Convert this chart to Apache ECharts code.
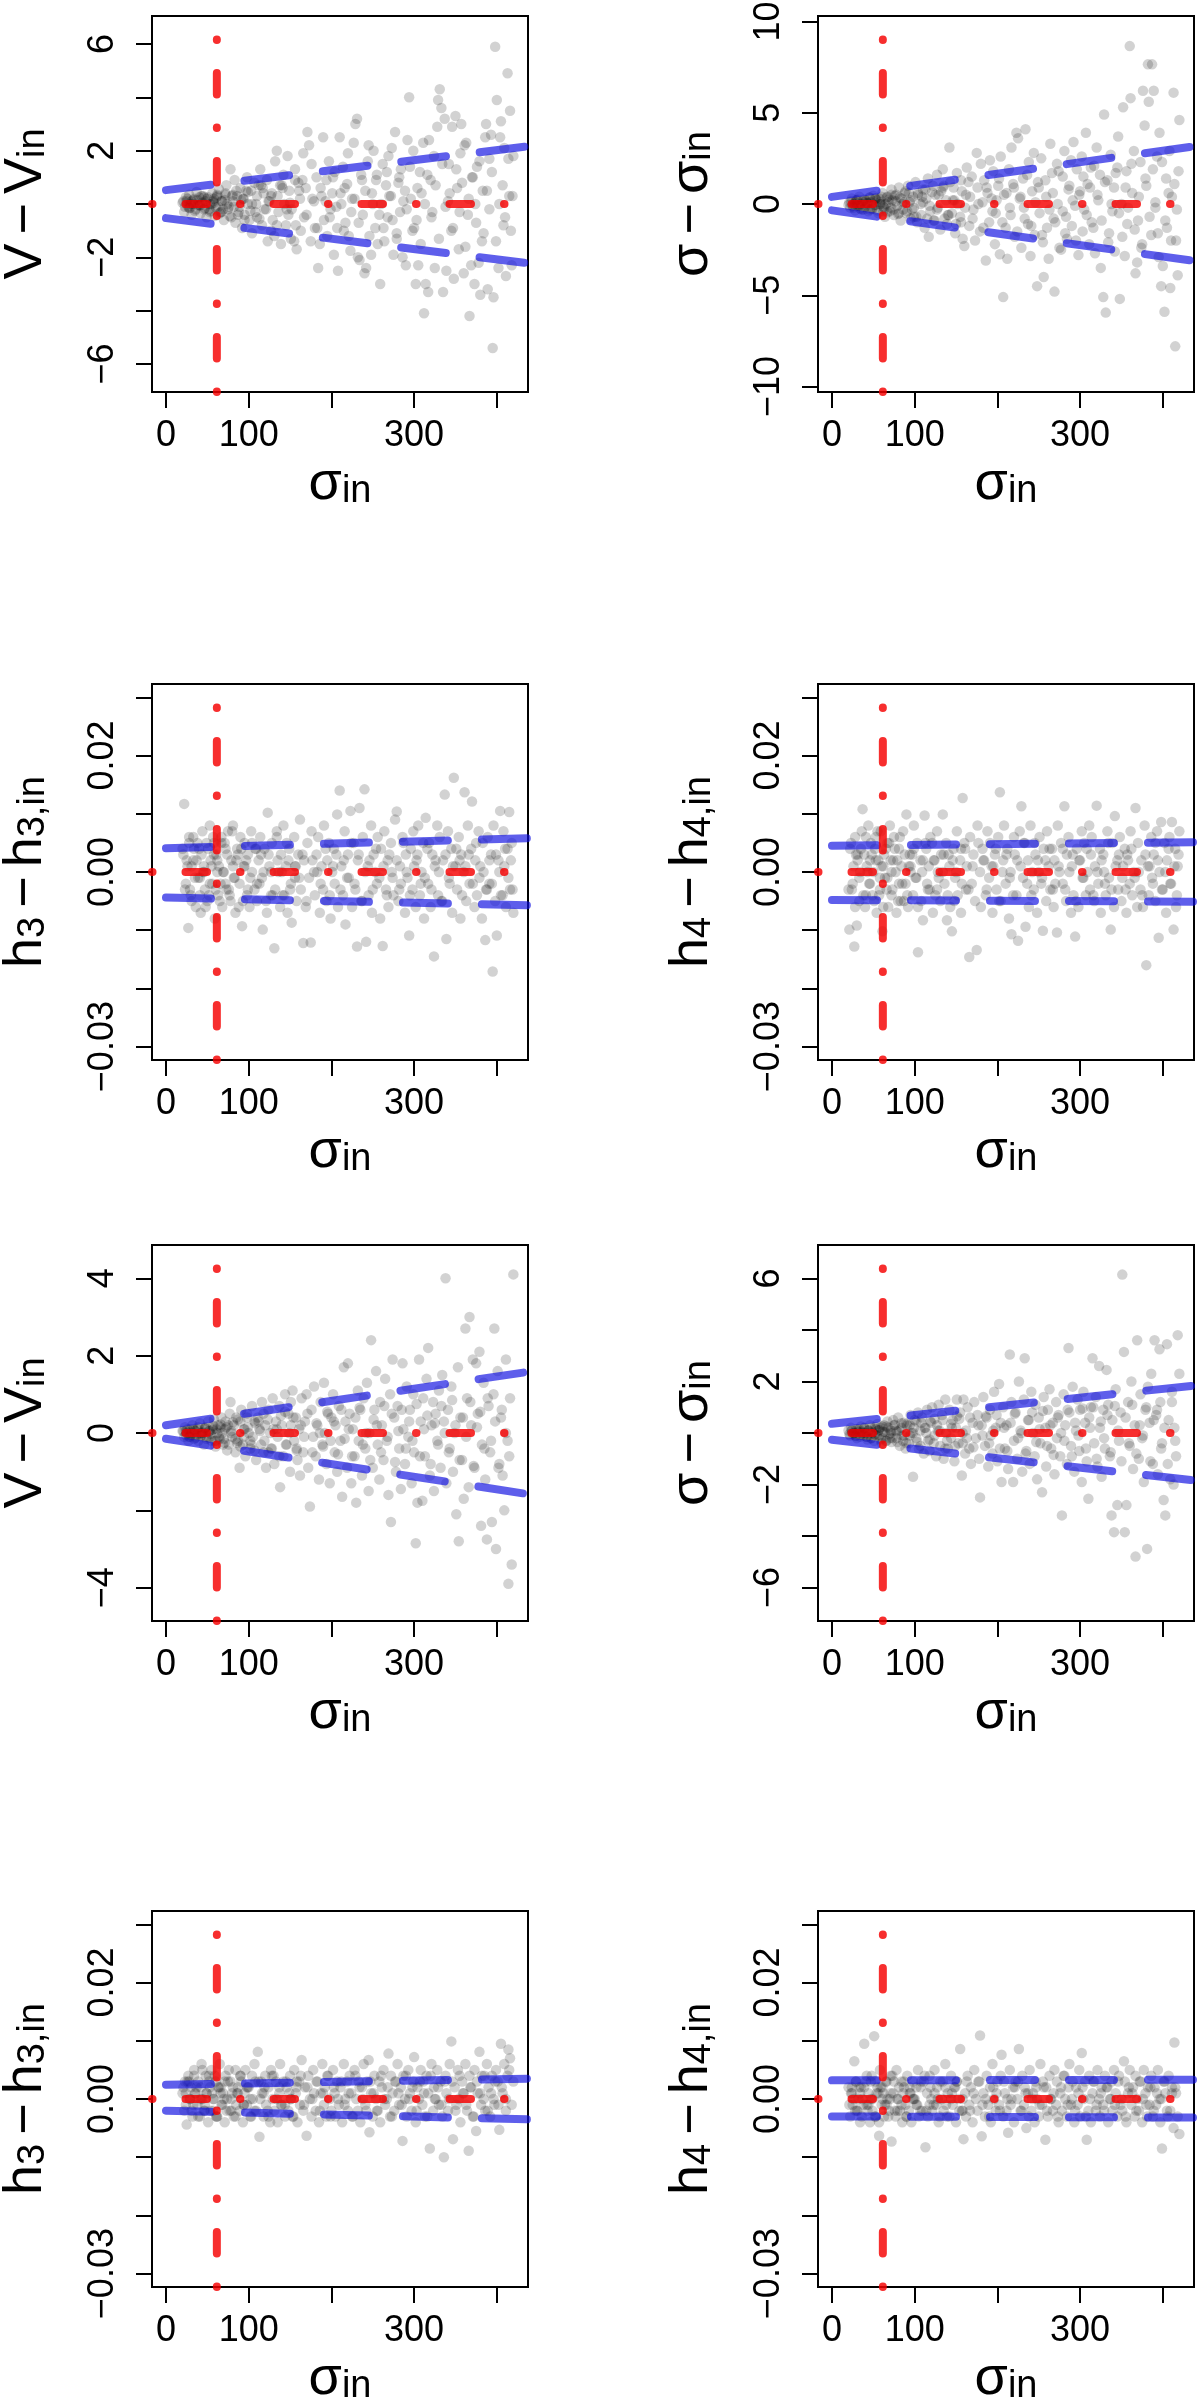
<!DOCTYPE html>
<html><head><meta charset="utf-8">
<script src="https://cdn.jsdelivr.net/npm/echarts@6/dist/echarts.min.js"></script>
<style>html,body{margin:0;padding:0;background:#fff}#c{width:1200px;height:2406px}</style>
</head><body><div id="c"></div>
<script>
// ---------- DATA : figure A (rows 1-2) ----------
const sigmaInA = [
21,22,24,27,28,30,31,33,36,37, 39,40,42,44,45,47,49,50,53,54, 56,57,59,61,63,64,67,68,70,72,
73,75,78,79,81,83,84,86,89,90, 92,94,95,98,99,101,103,104,107,108, 110,112,114,116,117,119,122,123,125,127,
128,131,132,134,136,138,139,142,143,145, 147,149,151,152,155,156,158,160,162,163, 166,167,169,171,173,175,176,179,180,182,
184,186,188,190,191,194,195,197,199,201, 203,204,207,208,210,212,214,216,217,220, 221,223,225,227,229,231,232,234,237,238,
240,242,244,245,248,249,251,253,255,256, 259,260,262,264,266,268,269,272,273,275, 277,279,281,283,284,286,289,290,292,294,
296,298,299,302,303,305,307,309,311,312, 314,317,318,320,322,324,325,328,329,331, 333,335,337,339,341,342,345,346,348,350,
352,354,356,357,360,361,363,365,367,369, 370,373,374,376,378,380,382,383,386,387, 389,391,393,395,396,398,400,402,404,405,
408,409,411,413,415,416,418,420];
const dV_A = [
0.1,-0.3,0.25,-0.1,0.35,0.0,-0.4,0.15,-0.2,0.45, -0.05,0.25,-0.35,0.05,0.3,-0.15,-0.5,0.2,0.0,-0.25, 0.4,0.1,-0.45,0.25,-0.1,0.55,-0.3,0.1,-0.6,0.35,
0.7,-0.2,1.3,-0.5,0.1,0.9,-0.7,0.3,-0.1,0.6, -0.9,0.2,-0.4,1.0,0.0,-0.6,0.5,-1.1,0.8,-0.3, 0.3,0.7,1.3,-0.8,0.6,-0.2,0.9,-1.4,0.1,-1.0,
0.4,-1.2,1.6,2.0,-0.3,0.7,-1.5,1.1,0.0,-0.8, 1.8,0.5,-1.3,-0.2,-1.4,1.3,-1.7,0.8,0.2,-1.0, 1.9,-0.5,0.6,2.7,2.2,-1.4,1.5,0.1,-0.9,1.0,
-2.4,-1.5,0.3,2.5,-0.6,0.9,-1.2,1.6,-0.2,0.4, -1.9,1.2,-0.9,-2.5,2.5,0.0,1.4,0.6,-0.7,1.9, -1.2,-1.75,0.2,2.3,3.0,3.2,-2.0,-2.1,0.9,-0.4,
-2.6,-2.4,1.6,2.2,-1.9,0.4,2.0,-0.9,1.1,-1.5, -3.0,0.0,1.5,-1.4,0.7,-0.5,1.8,0.3,2.1,-1.9, 2.7,-1.1,0.8,-0.3,1.3,-2.0,0.5,-2.3,2.4,4.0,
0.2,-1.0,2.0,-3.0,-0.6,-2.3,1.2,0.4,2.3,-4.1, -3.0,-3.3,2.4,0.9,-0.3,1.8,-2.4,2.9,3.9,4.3, 3.6,-3.3,3.2,-2.5,0.1,1.5,-1.0,2.9,-2.8,3.3,
0.6,-1.7,1.9,3.0,-2.6,2.2,2.3,-0.4,-4.2,-2.3, 1.0,-3.0,0.0,1.4,-2.2,-3.4,-1.4,0.5,2.5,3.0, -3.2,1.7,2.6,-5.4,-3.5,5.9,3.9,-2.4,2.5,3.1,
-0.8,2.1,-2.7,4.9,0.3,3.5,-2.3,1.8];
const dSig_A = [
0.1,-0.2,0.3,0.0,-0.35,0.2,-0.1,0.4,-0.3,0.15, 0.25,-0.15,0.05,-0.4,0.35,0.1,-0.25,0.45,-0.05,0.2, -0.5,0.3,0.0,0.6,-0.2,-0.7,0.4,0.1,-0.4,0.8,
0.2,-0.6,0.5,-0.1,0.9,-0.9,0.3,-0.3,0.7,-0.5, 1.0,0.1,-0.8,0.4,-0.2,1.2,-1.0,0.6,0.0,-0.6, 0.8,-1.3,0.3,1.4,-1.8,-0.4,1.0,-0.9,0.5,1.6,
-0.2,-1.4,0.7,1.9,-0.8,0.2,-1.1,3.1,1.2,-0.5, 0.9,-1.6,1.7,0.0,-0.7,1.3,-1.9,-2.3,0.5,2.0, -1.2,0.4,1.5,-0.3,-2.0,2.8,0.9,-1.5,2.2,0.1,
1.3,-3.1,0.6,-1.0,2.4,-0.4,1.8,-2.2,0.2,1.0, -2.75,2.6,-5.1,0.5,-1.3,-3.0,1.9,-0.6,3.1,0.9, -1.8,3.9,3.6,0.3,-2.4,1.4,-0.2,4.1,-1.1,2.3,
-2.85,0.7,2.8,-1.7,-4.5,1.2,-0.5,2.5,-2.1,-4.0, 0.4,-1.3,-3.0,3.3,1.7,-0.8,-4.8,2.2,0.0,-2.4, -2.5,1.5,2.9,-0.7,-1.9,0.8,2.4,-1.2,3.4,-0.1,
1.9,-2.8,0.5,2.6,-1.5,-0.3,3.9,1.1,-2.2,0.9, -1.0,2.1,-2.7,3.1,0.2,1.6,-3.5,-5.1,4.9,-5.95, 1.3,-1.6,2.7,-0.4,0.9,-2.6,2.0,3.7,-5.2,0.0,
5.3,-2.85,1.8,-1.1,8.65,5.8,0.6,2.9,-3.8,-3.2, -0.9,2.3,-2.4,6.2,4.3,1.0,7.65,5.6,-1.7,7.65, 6.2,-0.2,2.6,-2.9,3.9,-4.5,-3.4,-5.9,1.4,-1.3,
2.9,-4.6,0.4,6.1,-7.8,-2.0,-3.9,4.6];
const dH3_A = [
0.003,0.0117,-0.002,-0.0096,0.005,-0.004,0.001,0.006,-0.006,0.002, -0.001,0.004,-0.007,0.007,0.0,-0.003,0.005,-0.005,0.008,0.002, -0.002,0.006,-0.008,0.003,-0.004,0.001,0.005,-0.006,0.0,0.004,
-0.003,0.007,-0.005,0.002,0.008,-0.001,-0.007,0.004,-0.002,0.006, -0.0093,0.001,0.005,-0.004,0.003,-0.006,0.007,0.0,-0.003,0.004, -0.005,0.002,0.006,-0.001,-0.0099,0.004,-0.007,0.0102,0.001,-0.004,
0.005,-0.0131,-0.003,0.007,0.0,-0.006,0.003,0.008,-0.004,0.001, -0.007,0.004,-0.002,-0.0087,0.006,0.001,-0.005,0.003,0.009,-0.003, -0.0122,0.002,-0.006,0.005,-0.001,-0.0121,0.007,0.0,-0.004,0.003,
0.006,-0.007,0.001,-0.003,0.008,-0.005,0.002,0.005,-0.008,0.0, 0.004,-0.002,0.0099,-0.006,0.014,0.001,-0.004,0.007,-0.009,0.003, -0.001,0.0105,-0.006,0.005,-0.003,-0.0128,0.002,0.011,-0.005,0.006,
0.0142,-0.012,0.001,-0.004,0.008,-0.007,0.003,0.0,-0.002,0.006, -0.008,0.004,-0.0127,0.007,-0.003,0.002,-0.006,0.005,0.0,-0.004, 0.009,0.0104,-0.005,0.001,-0.002,0.006,-0.007,0.003,-0.001,-0.0109,
0.004,-0.003,0.007,-0.006,0.002,0.008,-0.004,0.0,0.005,-0.008, 0.0093,-0.002,0.005,-0.006,0.003,-0.0145,0.001,0.008,-0.004,0.006, -0.005,0.002,0.0133,-0.0115,0.007,-0.001,0.004,-0.007,0.0162,0.001,
-0.003,0.006,-0.008,0.003,0.0,0.0137,-0.005,0.008,-0.002,0.004, 0.0121,-0.006,0.002,-0.004,0.007,0.001,-0.008,0.005,-0.0117,-0.003, 0.006,-0.002,0.003,-0.0171,0.008,-0.005,-0.0109,0.002,0.0105,-0.004,
0.007,0.001,-0.006,0.004,0.0103,-0.003,0.005,-0.007];
const dH4_A = [
-0.0099,0.004,-0.003,-0.0128,0.006,-0.0092,0.002,-0.005,0.007,0.0108, 0.003,-0.006,0.001,0.008,-0.002,0.005,-0.004,0.0,0.006,-0.007, 0.002,-0.004,0.007,-0.0102,0.003,-0.001,0.005,-0.006,0.008,0.0,
-0.003,0.006,-0.007,0.002,0.004,-0.005,0.001,0.007,-0.002,0.0099, -0.006,0.003,0.0,-0.004,0.008,-0.001,0.005,-0.0138,0.002,-0.005, -0.0083,0.0097,0.004,-0.003,0.001,0.006,-0.007,0.002,-0.004,0.007,
0.0,-0.005,0.003,0.0099,-0.002,0.005,-0.0083,0.001,-0.006,-0.0102, 0.004,-0.001,0.007,-0.004,0.002,-0.007,0.0127,0.005,-0.003,0.001, -0.0146,0.006,-0.002,0.003,-0.005,-0.0134,0.008,0.0,-0.006,0.004,
0.002,-0.004,0.007,-0.001,0.005,-0.007,0.001,0.003,-0.003,0.006, 0.0137,-0.005,0.002,0.008,-0.002,0.004,-0.008,0.0,-0.0107,0.006, 0.003,-0.004,-0.0118,0.007,0.0113,-0.001,0.005,-0.0094,0.002,-0.006,
0.008,0.0,-0.003,0.005,-0.007,0.002,0.006,-0.002,-0.0101,0.004, -0.005,0.007,0.001,-0.003,0.004,-0.006,0.002,-0.0104,0.008,0.0, 0.005,-0.002,0.0113,-0.005,0.003,0.006,-0.007,0.001,-0.004,-0.0111,
0.004,-0.006,0.002,0.007,-0.001,0.005,-0.004,0.0,0.008,-0.003, 0.006,-0.005,0.001,0.0114,-0.002,0.004,-0.007,0.003,0.0,-0.004, 0.007,-0.001,-0.0099,0.005,-0.006,0.0096,0.002,-0.003,0.006,-0.005,
0.001,0.004,-0.007,0.003,-0.002,0.007,-0.004,0.0,0.011,-0.006, 0.005,-0.003,0.002,-0.006,0.008,-0.016,0.001,-0.004,0.006,-0.001, 0.003,-0.005,0.007,-0.0113,0.0,0.0086,-0.003,0.005,-0.007,0.002,
0.006,-0.002,0.0086,-0.0099,0.004,-0.006,0.001,0.007];
// second batch of galaxies, figure A
const sigmaInA2 = [
25,29,34,41,46,52,58,62,66,71, 76,81,87,93,97,102,109,113,118,124, 129,135,140,146,150,157,161,165,170,177,
183,187,193,198,202,206,211,215,219,224, 228,233,236,241,246,250,254,258,263,267, 270,274,279,282,287,291,295,300,304,308,
313,316,321,326,330,334,338,343,347,351, 355,358,362,366,371,375,379,384,388,391, 394,399,403,407,410,414,417,419];
const dV_A2 = [
0.1,-0.15,0.2,-0.05,0.25,-0.2,0.05,0.3,-0.3,0.15, -0.1,0.35,-0.4,0.2,0.5,-0.25,0.0,-0.55,0.4,0.1, -0.6,0.3,0.7,-0.2,0.05,-0.8,0.5,0.9,-0.4,0.2,
-0.9,0.6,0.1,-0.5,1.0,-0.1,0.4,-1.0,0.75,-0.3, 0.2,-0.7,1.1,0.5,-1.2,0.0,0.9,-0.4,-0.9,1.2, 0.3,-0.6,-1.3,1.0,0.1,-0.2,1.4,-0.9,0.6,-1.5,
0.0,1.1,-0.5,0.7,-1.3,1.5,-0.1,0.4,-0.9,1.3, -0.3,0.8,-1.6,0.2,1.0,-0.7,1.6,-1.1,0.5,-0.2, 1.2,-1.4,0.0,0.7,-0.5,1.7,-1.0,0.3];
const dSig_A2 = [
-0.1,0.2,-0.25,0.15,-0.3,0.3,0.0,-0.4,0.35,-0.2, 0.45,-0.5,0.1,0.6,-0.3,-0.7,0.4,0.8,-0.1,-0.9, 0.5,1.0,-0.6,0.2,-1.1,0.7,-0.2,1.2,-0.8,0.0,
-1.3,0.9,0.3,-0.5,1.4,-1.0,0.6,-0.2,1.1,-1.5, 0.4,-0.8,1.6,-1.2,0.1,0.9,-1.7,1.3,-0.3,0.6, -1.0,1.8,-0.4,-1.6,1.0,0.2,-2.0,0.7,1.5,-0.6,
2.0,-1.3,0.5,-0.9,1.2,-2.1,0.0,1.7,-0.5,-1.8, 0.9,-0.2,2.2,-1.4,0.4,-2.2,1.4,-0.7,1.9,0.1, -1.6,2.3,-0.9,0.6,-2.0,1.1,-0.3,1.8];
const dH3_A2 = [
0.002,-0.003,0.004,-0.001,0.001,-0.004,0.003,0.0,-0.002,0.005, -0.003,0.001,0.003,-0.005,0.002,-0.001,0.004,-0.002,0.0,0.003, -0.004,0.002,0.0,0.005,-0.003,0.001,-0.001,0.003,-0.005,0.002,
0.0,-0.002,0.004,-0.004,0.001,0.003,-0.003,0.002,-0.001,0.005, -0.002,0.003,-0.005,0.0,0.002,-0.003,0.004,-0.001,0.001,-0.004, 0.003,-0.001,0.002,-0.003,0.005,0.0,-0.004,0.001,0.003,-0.002,
-0.001,0.004,-0.003,0.002,0.0,-0.005,0.003,-0.002,0.001,0.004, 0.002,-0.004,0.001,0.003,-0.002,0.005,-0.001,0.0,-0.003,0.002, -0.002,0.003,0.0,-0.004,0.004,-0.001,0.002,-0.003];
const dH4_A2 = [
-0.002,0.003,0.0,-0.004,0.002,0.004,-0.001,0.001,-0.003,0.002, 0.004,-0.002,-0.005,0.001,0.003,-0.001,0.0,0.005,-0.003,0.002, -0.001,0.003,-0.004,0.002,0.0,-0.002,0.004,-0.003,0.001,0.005,
0.002,-0.003,0.001,0.004,-0.005,0.0,0.003,-0.001,-0.004,0.002, 0.001,0.005,-0.002,-0.004,0.003,0.0,-0.001,0.002,0.004,-0.003, -0.002,0.001,0.004,-0.003,0.0,0.003,-0.005,0.002,-0.001,0.004,
0.003,-0.004,0.0,0.002,-0.002,0.005,-0.003,0.001,0.003,-0.001, -0.003,0.002,0.004,-0.001,0.0,-0.004,0.003,0.001,-0.002,0.005, 0.002,-0.003,0.0,0.004,-0.002,0.001,-0.004,0.003];
// third batch, figure A (crowded low-sigma end)
const sigmaInA3 = [
20,23,26,28,31,33,35,38,41,43, 46,48,51,53,55,58,60,62,65,67, 69,72,74,77,80,82,85,88,91,95, 99,104,110,115,121,127,134,141,148,156];
const dV_A3 = [
0.05,-0.1,0.2,-0.15,0.1,0.0,-0.25,0.15,-0.05,0.3, -0.2,0.1,0.25,-0.3,0.0,0.2,-0.1,0.35,-0.35,0.1,
-0.2,0.4,0.0,-0.45,0.3,-0.1,0.5,-0.3,0.15,-0.6, 0.45,0.0,-0.5,0.7,-0.2,0.3,-0.8,0.6,-0.4,0.9];
const dSig_A3 = [
-0.05,0.15,-0.2,0.1,0.25,-0.1,0.0,-0.3,0.2,0.05, 0.35,-0.25,-0.05,0.3,-0.35,0.1,0.4,-0.15,0.0,-0.45,
0.25,0.5,-0.3,0.15,-0.55,0.35,0.0,0.6,-0.4,0.2, -0.7,0.5,0.1,-0.8,0.65,-0.3,0.9,-0.6,0.2,-1.0];
const dH3_A3 = [
0.004,-0.003,0.001,0.006,-0.005,0.002,-0.001,0.005,-0.004,0.003, 0.0,-0.006,0.004,-0.002,0.001,0.005,-0.003,0.002,-0.005,0.006,
0.0,-0.002,0.003,-0.004,0.007,-0.001,0.002,-0.006,0.004,0.001, -0.003,0.005,-0.002,0.003,-0.005,0.0,0.006,-0.004,0.002,-0.001];
const dH4_A3 = [
-0.003,0.005,0.001,-0.006,0.003,-0.001,0.004,-0.004,0.006,0.0, -0.002,0.003,-0.005,0.002,0.007,-0.003,0.001,-0.006,0.004,-0.001,
0.005,-0.004,0.002,0.0,-0.005,0.006,-0.002,0.003,-0.004,0.001, 0.004,-0.006,0.002,-0.002,0.005,-0.003,0.0,0.003,-0.005,0.004];

// ---------- DATA : figure B (rows 3-4) ----------
const sigmaInB = [
20,22,23,25,27,29,30,32,34,35, 38,39,41,43,44,46,48,49,51,53, 55,57,58,60,62,63,65,67,69,71,
72,74,77,78,80,82,84,85,87,89, 91,93,95,96,98,100,102,104,105,107, 109,111,113,115,116,118,120,121,124,126,
127,129,131,133,135,137,138,140,142,144, 146,148,150,151,153,155,157,159,161,162, 164,166,168,170,172,174,176,178,179,181,
183,185,187,189,191,192,194,196,198,200, 202,204,205,207,209,211,213,215,217,219, 220,222,224,226,228,230,232,233,235,237,
239,241,243,245,246,248,250,252,254,256, 258,259,261,263,265,267,269,271,272,274, 276,278,280,282,284,286,287,289,291,293,
295,297,299,300,302,304,306,308,310,311, 313,315,317,319,321,323,324,326,328,330, 332,334,336,338,339,341,343,345,347,349,
351,353,354,356,358,360,362,364,366,367, 369,371,373,375,377,379,381,382,384,386, 388,390,392,394,396,397,399,401,403,405,
407,409,411,413,414,416,418,420];
const dV_B = [
0.05,-0.1,0.15,0.0,-0.2,0.1,-0.05,0.2,-0.15,0.05, 0.1,-0.2,0.25,-0.05,0.0,-0.3,0.15,-0.1,0.3,0.05, -0.2,0.1,0.35,-0.35,0.0,0.2,-0.15,0.4,-0.3,0.1,
0.3,-0.45,0.5,0.8,-0.1,0.2,-0.5,0.4,-0.2,-0.9, 0.6,-0.3,0.1,-0.6,0.5,0.0,-0.4,0.7,-0.1,0.3, -0.7,0.4,0.1,-0.3,0.8,-0.5,0.2,-0.9,0.6,0.0,
-0.4,0.9,-0.8,0.3,-0.1,0.7,-1.4,0.2,-0.6,1.0, -0.3,0.5,-1.0,0.8,1.1,-0.2,0.4,-0.7,0.1,-1.1, 0.9,-0.5,0.3,1.0,-0.9,-1.9,0.6,-0.1,1.2,-0.6,
0.2,-1.2,0.8,-0.3,1.3,0.0,-0.8,0.5,-1.3,0.4, 1.0,-0.5,0.2,-1.0,0.7,-0.2,-1.65,1.7,0.3,-0.9, 1.8,0.5,-1.3,0.1,-0.6,-1.8,1.1,-0.2,0.6,-1.1,
0.9,-0.4,1.3,-1.5,0.0,2.4,-0.9,0.6,1.6,-0.3, -1.2,0.8,0.2,-0.7,1.4,-0.2,-1.6,1.0,-2.3,1.9, 0.4,-1.0,0.7,-0.4,-1.45,1.8,0.1,-0.8,1.2,-0.1,
0.6,-1.3,1.0,-0.5,-2.85,-1.8,1.9,0.3,-1.75,0.9, -0.6,1.4,2.2,-1.1,0.2,0.8,-1.5,0.5,-0.2,1.1, -0.9,1.5,0.3,4.0,-1.3,0.6,-0.4,1.2,-1.0,0.0,
-2.1,1.7,-2.8,0.4,-0.7,-1.7,2.7,0.9,-1.4,3.0, 0.2,1.9,-0.9,1.8,0.5,2.1,-2.4,-0.3,1.3,-1.2, -2.75,0.7,-0.5,-2.3,1.0,2.7,-3.0,1.6,-0.8,0.4,
-1.1,-2.0,1.9,-0.2,-3.9,0.9,-3.4,4.1];
const dSig_B = [
0.1,-0.1,0.2,-0.05,0.0,0.15,-0.2,0.05,-0.15,0.25, -0.1,0.2,0.0,-0.25,0.1,0.3,-0.2,0.05,-0.3,0.15, 0.35,-0.1,0.2,-0.4,0.05,0.3,-0.3,0.45,-0.05,0.1,
-0.35,0.5,0.1,-0.2,0.6,-0.5,0.2,-0.1,0.4,-0.6, 0.3,-0.4,0.7,0.0,-1.7,0.5,-0.2,0.8,-0.6,0.1, 0.6,-0.8,0.2,0.9,-0.3,-0.7,0.4,1.0,-0.1,-0.9,
0.3,1.1,-0.5,0.7,-1.0,1.3,0.0,-0.6,0.9,-0.2, 0.5,-1.1,0.2,1.3,-0.4,0.8,-1.65,1.3,-0.8,0.1, 1.0,-0.6,-1.2,0.4,1.2,-0.2,0.7,-1.0,-2.5,0.3,
1.4,-0.5,0.6,-1.3,0.9,-0.1,-0.8,1.6,0.2,-1.1, 1.9,0.4,-1.9,1.0,-0.6,0.3,-1.4,3.05,1.2,-1.9, -0.3,0.8,-1.0,2.0,0.1,-1.5,1.3,2.9,-0.7,0.5,
-1.2,1.6,0.0,-0.9,1.1,-1.8,0.6,-0.4,-2.3,1.4, 0.2,-1.3,0.9,1.7,-0.6,0.4,-1.6,1.2,-0.2,0.7, -0.9,-3.2,1.5,0.3,-1.2,3.3,0.8,-0.5,1.8,-1.5,
0.1,1.3,-0.7,0.9,-1.9,1.6,0.4,-1.1,-2.55,0.6, 1.0,2.9,-0.4,1.4,-1.3,2.6,0.2,-1.7,0.9,-0.6, 2.45,1.1,-0.9,-3.2,0.5,-3.85,1.7,-2.8,-0.3,0.8,
6.15,3.15,-3.85,-2.8,1.2,-0.5,2.0,-1.4,0.3,-4.8, 3.6,-1.0,1.5,-0.2,-1.9,0.9,-4.5,1.8,0.4,2.3, -1.2,3.6,0.7,-1.6,3.25,1.2,-0.4,-2.6,-3.2,3.45,
0.5,-1.8,1.6,-2.0,0.2,-0.9,3.8,2.3];
const dH3_B = [
0.001,-0.002,0.003,-0.0044,0.004,0.0,0.002,-0.003,0.005,0.001, -0.001,0.003,-0.003,0.006,0.0,-0.002,0.004,0.001,-0.004,0.002, 0.005,-0.002,0.0,0.003,-0.003,0.002,0.006,-0.001,0.001,-0.004,
0.004,0.0,-0.002,0.003,0.001,-0.003,0.005,-0.001,0.002,-0.002, 0.003,-0.004,0.001,0.005,-0.001,0.002,-0.003,0.004,0.0,0.006, -0.002,0.0081,-0.0065,0.003,0.001,-0.003,0.004,-0.001,0.002,-0.004,
0.005,0.0,-0.002,0.003,-0.004,0.001,0.006,-0.001,0.003,-0.003, 0.002,-0.002,0.004,0.0,-0.003,0.005,0.001,-0.004,0.003,-0.001, 0.0067,-0.002,0.002,-0.0063,0.004,0.0,-0.003,0.005,0.001,-0.002,
0.003,-0.004,0.001,0.006,-0.001,0.002,-0.003,0.004,0.0,-0.002, 0.005,0.001,-0.003,0.003,-0.001,0.002,-0.004,0.006,0.0,0.003, -0.002,0.004,0.001,-0.003,0.005,0.0,-0.002,0.003,-0.004,0.002,
0.006,-0.001,0.003,0.0067,-0.0057,0.001,-0.003,0.004,0.0,-0.002, 0.003,-0.004,0.002,0.005,-0.001,0.0,0.0078,-0.003,0.004,0.001, -0.002,0.003,0.006,-0.001,0.002,-0.0072,0.004,0.0,-0.003,0.005,
0.001,-0.002,0.003,0.0072,-0.004,0.002,0.0,0.005,-0.001,0.003, -0.003,0.004,0.001,-0.0085,0.006,-0.002,0.002,0.0,0.005,-0.001, 0.003,-0.003,-0.01,0.004,0.001,-0.002,0.006,0.0099,-0.0069,0.002,
-0.001,0.005,0.0,-0.004,0.003,0.001,0.006,-0.002,-0.0089,0.004, 0.002,-0.003,0.005,-0.0055,0.001,0.0081,-0.001,0.004,0.0,-0.002, 0.006,0.002,-0.003,0.004,0.0,-0.001,0.005,0.003,-0.0053,0.0095,
0.001,0.006,-0.002,0.004,0.0085,0.007,-0.001,0.003];
const dH4_B = [
0.002,-0.003,0.001,-0.001,0.0065,0.003,-0.002,0.0,-0.004,0.002, -0.001,0.0095,0.003,-0.002,0.001,-0.004,0.004,0.0,0.0108,-0.003, 0.002,-0.0063,0.005,-0.001,0.001,-0.003,0.003,0.0,-0.002,0.004,
-0.0073,0.001,-0.003,0.005,0.0,-0.002,0.003,-0.004,0.002,-0.001, 0.004,-0.002,0.001,-0.004,0.003,0.0,-0.001,0.005,-0.003,0.002, -0.002,0.003,-0.0083,0.001,-0.003,0.004,0.0,-0.002,0.005,-0.001,
0.002,-0.004,0.003,0.0,-0.002,0.006,-0.001,0.001,-0.003,0.004, -0.001,0.002,-0.004,0.003,0.0,0.0086,-0.002,-0.0069,0.001,-0.003, 0.004,-0.001,0.002,-0.004,0.005,0.0,-0.002,0.003,0.0109,-0.0064,
0.001,-0.003,0.004,-0.001,0.002,-0.004,0.006,0.0,-0.002,0.003, -0.001,0.004,0.0076,-0.003,0.001,-0.002,-0.0058,0.005,0.0,0.002, -0.004,0.003,0.0,0.0086,-0.002,0.004,-0.001,0.002,-0.005,0.001,
0.005,-0.002,0.001,-0.004,0.003,0.0,-0.003,0.006,-0.001,0.002, -0.007,0.002,-0.003,0.004,0.0,-0.002,0.005,-0.001,0.003,-0.004, 0.001,-0.002,0.004,0.0,-0.003,0.002,0.006,-0.001,0.003,-0.004,
0.002,-0.001,0.005,-0.003,0.0079,0.0,0.003,-0.007,-0.002,0.004, -0.004,0.001,0.003,-0.002,0.005,0.0,-0.003,0.002,-0.001,0.004, 0.002,-0.004,0.0,0.003,-0.002,0.005,0.001,-0.003,0.004,-0.001,
-0.002,0.0065,0.003,-0.004,0.001,0.005,-0.001,0.002,-0.003,0.004, 0.0,-0.002,0.003,-0.004,0.005,0.001,-0.003,0.002,-0.001,0.004, -0.003,0.002,-0.001,0.005,0.0,-0.004,-0.0085,0.003,0.001,-0.002,
0.004,-0.002,0.002,-0.005,0.0097,0.001,-0.003,-0.006];
const sigmaInB2 = [
24,28,33,37,42,47,52,56,61,66, 70,75,79,86,90,94,99,103,108,114, 119,123,128,134,139,145,149,154,158,163,
167,171,177,182,186,190,195,199,203,208, 212,216,221,225,229,234,238,242,247,251, 255,260,264,268,273,277,281,285,290,294,
298,303,307,312,316,320,325,329,333,337, 342,346,350,355,359,363,368,372,376,380, 385,389,393,398,402,406,411,415];
const dV_B2 = [
0.05,-0.1,0.1,-0.05,0.0,0.12,-0.12,0.08,-0.2,0.15, -0.15,0.2,0.0,-0.25,0.3,-0.1,0.15,-0.3,0.25,0.05, -0.2,0.35,-0.4,0.1,0.45,-0.3,0.0,0.4,-0.45,0.2,
-0.1,0.5,-0.5,0.25,0.0,-0.35,0.55,-0.2,0.3,-0.55, 0.6,-0.15,0.1,-0.6,0.4,0.65,-0.3,0.0,-0.7,0.35, 0.2,-0.5,0.7,-0.1,0.5,-0.75,0.05,0.6,-0.4,0.3,
-0.2,0.75,-0.6,0.1,0.45,-0.8,0.25,-0.3,0.7,0.0, -0.5,0.85,0.2,-0.7,0.4,-0.1,0.8,-0.85,0.15,0.55, -0.4,0.9,-0.2,0.3,-0.9,0.6,0.0,-0.6];
const dSig_B2 = [
0.1,-0.1,0.15,0.0,-0.15,0.2,-0.05,0.1,-0.2,0.25, -0.2,0.3,0.05,-0.3,0.35,-0.1,0.2,-0.35,0.4,0.0, 0.45,-0.4,0.1,0.5,-0.3,0.2,-0.5,0.55,0.0,-0.2,
0.6,-0.55,0.3,-0.1,0.65,-0.4,0.1,0.7,-0.6,0.2, -0.7,0.4,0.75,-0.2,0.0,-0.8,0.5,0.8,-0.35,0.15, 0.85,-0.5,0.3,-0.85,0.6,0.0,-0.3,0.9,-0.9,0.4,
-0.1,0.95,-0.6,0.2,1.0,-1.0,0.45,-0.2,0.7,-0.75, 1.05,0.1,-1.1,0.6,-0.4,1.1,-0.8,0.3,-0.1,1.0, -1.1,0.5,0.9,-0.6,0.2,-1.2,1.2,-0.3];
const dH3_B2 = [
0.001,0.003,-0.001,0.002,0.0,-0.002,0.004,0.001,-0.003,0.002, 0.0,0.003,-0.002,0.001,0.004,-0.001,0.002,-0.003,0.003,0.0, 0.002,-0.002,0.004,0.0,-0.001,0.003,0.001,-0.003,0.002,0.004,
-0.001,0.002,0.0,0.003,-0.002,0.001,0.004,-0.003,0.002,0.0, 0.003,-0.001,0.001,-0.003,0.004,0.002,0.0,-0.002,0.003,0.001, -0.002,0.004,0.0,0.002,-0.003,0.003,0.001,-0.001,0.004,0.0,
0.002,-0.002,0.003,0.001,-0.003,0.004,0.0,0.002,-0.001,0.003, 0.0,0.003,-0.002,0.004,0.001,-0.001,0.002,-0.003,0.003,0.001, 0.004,-0.002,0.001,0.003,-0.001,0.002,0.0,0.005];
const dH4_B2 = [
0.001,-0.002,0.002,0.0,-0.001,0.003,-0.003,0.001,0.002,-0.001, 0.0,0.003,-0.002,0.001,-0.003,0.002,0.0,-0.001,0.003,-0.002, 0.002,-0.001,0.0,0.003,-0.003,0.001,0.002,-0.002,0.0,0.003,
-0.002,0.001,0.003,-0.001,0.0,-0.003,0.002,0.001,-0.002,0.003, 0.0,-0.001,0.002,0.003,-0.002,0.001,-0.003,0.0,0.002,-0.001, 0.003,-0.002,0.0,0.001,-0.003,0.002,0.004,-0.001,0.0,-0.002,
0.001,0.002,-0.003,0.0,0.003,-0.001,0.001,-0.002,0.002,0.0, -0.001,0.003,0.0,-0.003,0.002,0.001,-0.002,0.003,0.0,-0.001, 0.002,-0.002,0.001,0.0,0.003,-0.003,0.001,0.002];
const sigmaInB3 = [
21,24,26,29,31,34,36,39,42,44, 47,49,52,54,57,59,61,64,66,68, 71,73,76,79,81,84,87,90,94,98, 102,107,112,118,124,130,137,144,151,158];
const dV_B3 = [
0.05,-0.05,0.1,-0.1,0.0,0.08,-0.12,0.15,-0.08,0.02, 0.12,-0.15,0.05,-0.02,0.18,-0.2,0.1,-0.1,0.22,0.0,
-0.25,0.15,-0.3,0.05,0.28,-0.15,0.35,-0.35,0.1,0.4, -0.2,-0.45,0.3,0.5,-0.5,0.1,-0.6,0.55,0.2,-0.4];
const dSig_B3 = [
-0.05,0.1,0.0,-0.12,0.15,-0.08,0.05,0.18,-0.15,0.1, -0.2,0.0,0.22,-0.1,0.12,-0.25,0.25,0.05,-0.3,0.2,
0.0,-0.2,0.32,-0.35,0.1,0.38,-0.1,-0.4,0.3,0.0, 0.45,-0.5,0.2,-0.25,0.55,0.1,-0.6,0.35,0.65,-0.4];
const dH3_B3 = [
0.002,-0.001,0.003,0.0,-0.002,0.004,0.001,-0.003,0.002,0.005, -0.001,0.001,0.003,-0.002,0.0,0.004,-0.003,0.002,0.001,-0.001,
0.003,-0.002,0.005,0.0,0.002,-0.003,0.001,0.004,-0.001,0.002, 0.0,-0.002,0.003,0.001,-0.003,0.004,0.002,-0.001,0.0,0.003];
const dH4_B3 = [
-0.001,0.002,0.0,0.003,-0.002,0.001,-0.003,0.002,0.004,-0.001, 0.0,-0.002,0.003,0.001,-0.004,0.002,0.0,-0.001,0.003,-0.003,
0.001,0.004,-0.002,0.0,0.002,-0.001,0.003,-0.003,0.001,0.0, 0.002,-0.002,0.004,-0.001,0.001,-0.003,0.002,0.0,0.003,-0.002];

// ---------- reference lines ----------
const sigmaCut = 61.5;             // vertical dot-dash line
const xLim = [-16.9, 437.7];       // sigma_in axis extent
const bandV_A   = [[[0,0.52],[437.7,2.16]],   [[0,-0.53],[437.7,-2.22]]];
const bandSig_A = [[[0,0.39],[437.7,3.16]],   [[0,-0.35],[437.7,-3.12]]];
const bandH3_A  = [[[0,0.0041],[437.7,0.0058]], [[0,-0.0044],[437.7,-0.0057]]];
const bandH4_A  = [[[0,0.0045],[437.7,0.0051]], [[0,-0.0048],[437.7,-0.0051]]];
const bandV_B   = [[[0,0.2],[437.7,1.58]],    [[0,-0.15],[437.7,-1.58]]];
const bandSig_B = [[[0,0.36],[437.7,1.84]],   [[0,-0.26],[437.7,-1.84]]];
const bandH3_B  = [[[0,0.00245],[437.7,0.0035]], [[0,-0.002],[437.7,-0.0035]]];
const bandH4_B  = [[[0,0.0032],[437.7,0.0033]], [[0,-0.003],[437.7,-0.0032]]];

// ---------- axis ticks / labels ----------
const xTicks = [0,100,200,300,400];
const xLabels = [0,100,300];
const yTicksV_A = [-6,-4,-2,0,2,4,6],  yLabelsV_A = [-6,-2,2,6];
const yTicksSig_A = [-10,-5,0,5,10],   yLabelsSig_A = [-10,-5,0,5,10];
const yTicksH = [-0.03,-0.02,-0.01,0,0.01,0.02,0.03], yLabelsH = [-0.03,0,0.02];
const yTicksV_B = [-4,-2,0,2,4],       yLabelsV_B = [-4,0,2,4];
const yTicksSig_B = [-6,-4,-2,0,2,4,6], yLabelsSig_B = [-6,-2,2,6];
const yLimV_A = 7.05, yLimSig_A = 10.3, yLimH = 0.0323, yLimV_B = 4.86, yLimSig_B = 7.3;

const SP = '\u2006';
const nameV = '{m|V' + SP + '\u2212' + SP + 'V}{s|in}';
const nameSig = '{m|\u03C3' + SP + '\u2212' + SP + '\u03C3}{s|in}';
const nameH3 = '{m|h}{s|3}{m|' + SP + '\u2212' + SP + 'h}{s|3,in}';
const nameH4 = '{m|h}{s|4}{m|' + SP + '\u2212' + SP + 'h}{s|4,in}';
const nameX = '{m|\u03C3}{s|in}';

// ---------- layout ----------
const FONT = '"Liberation Sans", Arial, Helvetica, sans-serif';
const colLeft = [152, 818], plotW = 376, rowTop = [16, 684, 1245, 1911], plotH = 376;
const rich = {
  m: {fontSize: 54, lineHeight: 54, fontFamily: FONT, color: '#000'},
  s: {fontSize: 38, lineHeight: 26, verticalAlign: 'bottom', fontFamily: FONT, color: '#000'}
};
const panels = [
  {col:0,row:0, xs:[sigmaInA,sigmaInA2,sigmaInA3], ys:[dV_A,dV_A2,dV_A3],       band:bandV_A,   lim:yLimV_A,   ticks:yTicksV_A,   labels:yLabelsV_A,   dec:0, name:nameV},
  {col:1,row:0, xs:[sigmaInA,sigmaInA2,sigmaInA3], ys:[dSig_A,dSig_A2,dSig_A3], band:bandSig_A, lim:yLimSig_A, ticks:yTicksSig_A, labels:yLabelsSig_A, dec:0, name:nameSig},
  {col:0,row:1, xs:[sigmaInA,sigmaInA2,sigmaInA3], ys:[dH3_A,dH3_A2,dH3_A3],    band:bandH3_A,  lim:yLimH,     ticks:yTicksH,     labels:yLabelsH,     dec:2, name:nameH3},
  {col:1,row:1, xs:[sigmaInA,sigmaInA2,sigmaInA3], ys:[dH4_A,dH4_A2,dH4_A3],    band:bandH4_A,  lim:yLimH,     ticks:yTicksH,     labels:yLabelsH,     dec:2, name:nameH4},
  {col:0,row:2, xs:[sigmaInB,sigmaInB2,sigmaInB3], ys:[dV_B,dV_B2,dV_B3],       band:bandV_B,   lim:yLimV_B,   ticks:yTicksV_B,   labels:yLabelsV_B,   dec:0, name:nameV},
  {col:1,row:2, xs:[sigmaInB,sigmaInB2,sigmaInB3], ys:[dSig_B,dSig_B2,dSig_B3], band:bandSig_B, lim:yLimSig_B, ticks:yTicksSig_B, labels:yLabelsSig_B, dec:0, name:nameSig},
  {col:0,row:3, xs:[sigmaInB,sigmaInB2,sigmaInB3], ys:[dH3_B,dH3_B2,dH3_B3],    band:bandH3_B,  lim:yLimH,     ticks:yTicksH,     labels:yLabelsH,     dec:2, name:nameH3},
  {col:1,row:3, xs:[sigmaInB,sigmaInB2,sigmaInB3], ys:[dH4_B,dH4_B2,dH4_B3],    band:bandH4_B,  lim:yLimH,     ticks:yTicksH,     labels:yLabelsH,     dec:2, name:nameH4}
];

function zip(xs, ys) { return xs.map((v, i) => [v, ys[i]]); }
function fmt(dec) {
  return function (v) {
    const a = Math.abs(v);
    const s = dec ? a.toFixed(dec) : String(Math.round(a));
    return (v < -1e-9 ? '\u2212' : '') + s;
  };
}
const blueStyle = {color: 'rgba(10,10,225,0.66)', width: 8, type: [45, 34], cap: 'round'};
const redStyle = {color: 'rgba(245,0,0,0.82)', width: 8, type: [0.5, 33, 21.5, 33], cap: 'round'};

const grids = [], xAxes = [], yAxes = [], series = [];
panels.forEach((p, i) => {
  grids.push({left: colLeft[p.col], top: rowTop[p.row], width: plotW, height: plotH,
    show: true, borderColor: '#000', borderWidth: 2, backgroundColor: 'transparent',
    containLabel: false, outerBoundsMode: 'none'});
  xAxes.push({type: 'value', gridIndex: i, min: xLim[0], max: xLim[1], position: 'bottom',
    axisLine: {show: false, onZero: false}, splitLine: {show: false},
    axisTick: {show: true, inside: false, length: 16, customValues: xTicks, lineStyle: {color: '#000', width: 2}},
    axisLabel: {show: true, customValues: xLabels, margin: 26, fontSize: 36, color: '#000', fontFamily: FONT, formatter: fmt(0)},
    name: nameX, nameLocation: 'middle', nameGap: 65, nameMoveOverlap: false,
    nameTextStyle: {rich: rich, fontFamily: FONT, color: '#000'}});
  yAxes.push({type: 'value', gridIndex: i, min: -p.lim, max: p.lim, position: 'left',
    axisLine: {show: false, onZero: false}, splitLine: {show: false},
    axisTick: {show: true, inside: false, length: 16, customValues: p.ticks, lineStyle: {color: '#000', width: 2}},
    axisLabel: {show: true, customValues: p.labels, rotate: 90, margin: 31, fontSize: 36, color: '#000', fontFamily: FONT, formatter: fmt(p.dec)},
    name: p.name, nameLocation: 'middle', nameRotate: 90, nameGap: 99, nameMoveOverlap: false,
    nameTextStyle: {rich: rich, fontFamily: FONT, color: '#000'}});
  let pts = [];
  p.xs.forEach((xs, k) => { pts = pts.concat(zip(xs, p.ys[k])); });
  series.push({type: 'scatter', xAxisIndex: i, yAxisIndex: i, silent: true, data: pts,
    symbol: 'circle', symbolSize: 10.5, itemStyle: {color: 'rgba(0,0,0,0.22)', borderWidth: 0}});
  p.band.forEach(b => series.push({type: 'line', xAxisIndex: i, yAxisIndex: i, data: b, showSymbol: false,
    symbol: 'none', silent: true, clip: true, lineStyle: blueStyle}));
  series.push({type: 'line', xAxisIndex: i, yAxisIndex: i, data: [[xLim[0], 0], [xLim[1], 0]], symbol: 'none',
    silent: true, clip: true, lineStyle: redStyle});
  series.push({type: 'line', xAxisIndex: i, yAxisIndex: i, data: [[sigmaCut, -p.lim], [sigmaCut, p.lim]], symbol: 'none',
    silent: true, clip: true, lineStyle: redStyle});
});

const chart = echarts.init(document.getElementById('c'), null, {renderer: 'canvas', width: 1200, height: 2406});
chart.setOption({backgroundColor: '#fff', animation: false, grid: grids, xAxis: xAxes, yAxis: yAxes, series: series});
</script></body></html>
